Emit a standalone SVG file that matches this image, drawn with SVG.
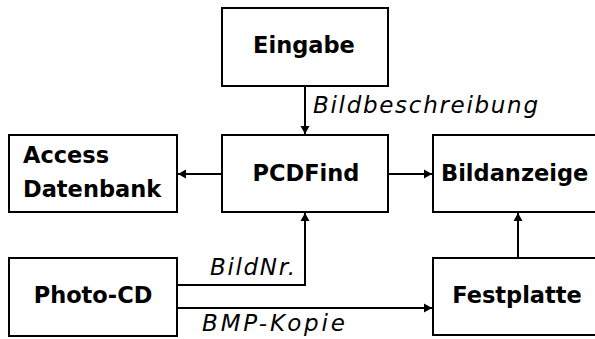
<svg xmlns="http://www.w3.org/2000/svg" width="595" height="339" viewBox="0 0 595 339">
<style>
.box{fill:#fff;stroke:#000;stroke-width:2}
.lbl{font-family:"DejaVu Sans",Verdana,sans-serif;font-weight:bold;font-size:22.5px;fill:#000}
.it{font-family:"DejaVu Sans",Verdana,sans-serif;font-style:italic;font-size:23px;fill:#000}
.con{fill:none;stroke:#000;stroke-width:2}
</style>
<defs>
<marker id="ah" markerUnits="userSpaceOnUse" markerWidth="9" markerHeight="10" refX="8" refY="5" orient="auto">
<path d="M0,0.5 L8,5 L0,9.5 z" fill="#000"/>
</marker>
</defs>
<rect width="595" height="339" fill="#fff"/>
<g id="connectors">
<line class="con" x1="305" y1="86" x2="305" y2="134" marker-end="url(#ah)"/>
<line class="con" x1="222" y1="174" x2="178" y2="174" marker-end="url(#ah)"/>
<line class="con" x1="388" y1="174" x2="432" y2="174" marker-end="url(#ah)"/>
<polyline class="con" points="177,285 305,285 305,213" marker-end="url(#ah)"/>
<line class="con" x1="177" y1="308" x2="432" y2="308" marker-end="url(#ah)"/>
<line class="con" x1="518" y1="258" x2="518" y2="213" marker-end="url(#ah)"/>
<text class="it" x="313" y="113" textLength="225" lengthAdjust="spacing">Bildbeschreibung</text>
<text class="it" x="210" y="275" textLength="85" lengthAdjust="spacing">BildNr.</text>
<text class="it" x="202" y="331" textLength="143" lengthAdjust="spacing">BMP-Kopie</text>
</g>
<g id="eingabe">
<rect class="box" x="222" y="8" width="166" height="78"/>
<text class="lbl" x="304" y="53" text-anchor="middle">Eingabe</text>
</g>
<g id="pcdfind">
<rect class="box" x="222" y="135" width="166" height="77"/>
<text class="lbl" x="306" y="181" text-anchor="middle">PCDFind</text>
</g>
<g id="access">
<rect class="box" x="9" y="135" width="168" height="77"/>
<text class="lbl" x="23" y="163">Access</text>
<text class="lbl" x="23" y="197">Datenbank</text>
</g>
<g id="bildanzeige">
<rect class="box" x="433" y="135" width="168" height="77"/>
<text class="lbl" x="441" y="181">Bildanzeige</text>
</g>
<g id="photocd">
<rect class="box" x="9" y="258" width="168" height="78"/>
<text class="lbl" x="93" y="303" text-anchor="middle">Photo-CD</text>
</g>
<g id="festplatte">
<rect class="box" x="433" y="258" width="168" height="77"/>
<text class="lbl" x="517" y="303" text-anchor="middle">Festplatte</text>
</g>
</svg>
